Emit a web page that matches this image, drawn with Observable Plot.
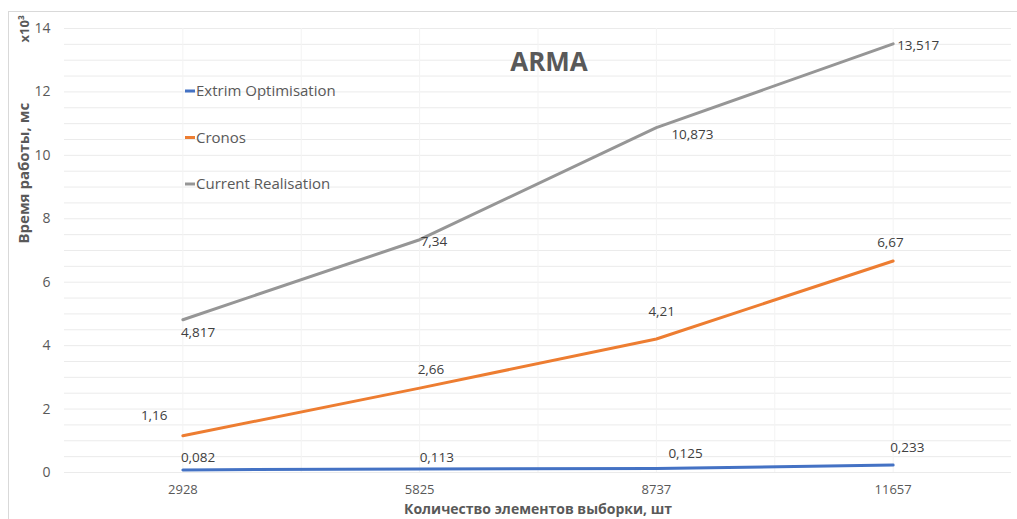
<!DOCTYPE html>
<html>
<head>
<meta charset="utf-8">
<script src="https://cdn.jsdelivr.net/npm/d3@7"></script>
<script src="https://cdn.jsdelivr.net/npm/@observablehq/plot@0.6"></script>
<style>
  body { margin: 0; background: #fff; }
  #wrap { position: relative; width: 1017px; height: 519px; overflow: hidden; }
  #border { position: absolute; left: 8px; top: 11px; width: 1030px; height: 530px; border: 1px solid #d9d9d9; pointer-events: none; }
</style>
</head>
<body>
<div id="wrap"><div id="border"></div></div>
<script>
const categories = ["2928", "5825", "8737", "11657"];
const extrimValues = [0.082, 0.113, 0.125, 0.233];
const cronosValues = [1.16, 2.66, 4.21, 6.67];
const currentValues = [4.817, 7.34, 10.873, 13.517];
const seriesNames = ["Extrim Optimisation", "Cronos", "Current Realisation"];
const yTicks = [0, 2, 4, 6, 8, 10, 12, 14];
const titleText = "ARMA";
const yTitle = "Время работы, мс";
const yUnit = "x10³";
const xTitle = "Количество элементов выборки, шт";

// styling / placement (kept apart from the data)
const colors = ["#4472C4", "#ED7D31", "#969696"];
const labelOffsets = [
  [[-2, -12], [0, -11], [12, -15], [-3, -17]],
  [[-42, -20], [-2, -18], [-8, -27], [-16, -18]],
  [[-2, 13], [1, 2], [15, 7], [4, 2]]
];

const seriesValues = [extrimValues, cronosValues, currentValues];
const rows = seriesValues.map((vals, s) =>
  vals.map((v, i) => ({ series: seriesNames[s], s, i, v }))
);

const fmt = v => String(v).replace(".", ",");
const minorGrid = d3.range(0, 14.01, 0.5);
const vGrid = d3.range(-0.5, 3.51, 0.5);

const marks = [
  Plot.ruleY(minorGrid, { stroke: "#ebebeb", strokeWidth: 1 }),
  Plot.ruleX(vGrid.slice(1, -1), { stroke: "#f3f3f3", strokeWidth: 1 }),
  Plot.axisY({ ticks: yTicks, tickSize: 0, tickPadding: 14, fontSize: 14, color: "#595959", label: null }),
  Plot.axisX({ ticks: [0, 1, 2, 3], tickFormat: i => categories[i], tickSize: 0, tickPadding: 12, fontSize: 13, color: "#595959", label: null }),
];

rows.forEach((data, s) => {
  marks.push(Plot.line(data, { x: "i", y: "v", stroke: colors[s], strokeWidth: 3, curve: "linear", strokeLinejoin: "round" }));
});

rows.forEach((data, s) => {
  data.forEach((d, k) => {
    const [dx, dy] = labelOffsets[s][k];
    marks.push(Plot.text([d], { x: "i", y: "v", text: d => fmt(d.v), dx, dy, textAnchor: "start", lineAnchor: "middle", fontSize: 13.5, fill: "#404040" }));
  });
});

// legend inside the plot area (custom render mark)
function legendMark(index, scales, values, dimensions) {
  const g = d3.create("svg:g")
    .attr("font-size", 15)
    .attr("fill", "#595959")
    .attr("text-anchor", "start");
  const x0 = dimensions.marginLeft + 121;
  const y0 = dimensions.marginTop + 63;
  seriesNames.forEach((name, s) => {
    const y = y0 + s * 46.5;
    g.append("line").attr("x1", x0).attr("x2", x0 + 10).attr("y1", y).attr("y2", y)
      .attr("stroke", colors[s]).attr("stroke-width", 3);
    g.append("text").attr("x", x0 + 11).attr("y", y).attr("dy", "0.35em")
      .attr("text-anchor", "start").text(name);
  });
  return g.node();
}

const chart = Plot.plot({
  width: 1017,
  height: 519,
  marginLeft: 64,
  marginRight: 6,
  marginTop: 28,
  marginBottom: 47,
  x: { type: "linear", domain: [-0.5, 3.5] },
  y: { domain: [0, 14] },
  style: { fontFamily: "'Open Sans', sans-serif", background: "transparent", overflow: "visible" },
  marks: [
    ...marks,
    legendMark,
    // title
    Plot.text([titleText], { frameAnchor: "top", text: d => d, dx: 11, dy: 34, lineAnchor: "middle", fontSize: 26, fontWeight: "bold", fill: "#595959" }),
    // y titles
    Plot.text([yTitle], { frameAnchor: "left", text: d => d, dx: -40, dy: -7, rotate: -90, lineAnchor: "middle", fontSize: 15, fontWeight: "bold", fill: "#595959" }),
    Plot.text([yUnit], { frameAnchor: "top-left", text: d => d, dx: -40, dy: 14, rotate: -90, lineAnchor: "middle", fontSize: 13, fontWeight: "bold", fill: "#595959" }),
    // x title
    Plot.text([xTitle], { frameAnchor: "bottom", text: d => d, dx: 0, dy: 37, lineAnchor: "middle", fontSize: 14, fontWeight: "bold", fill: "#595959" })
  ]
});

document.getElementById("wrap").prepend(chart);
</script>
</body>
</html>
